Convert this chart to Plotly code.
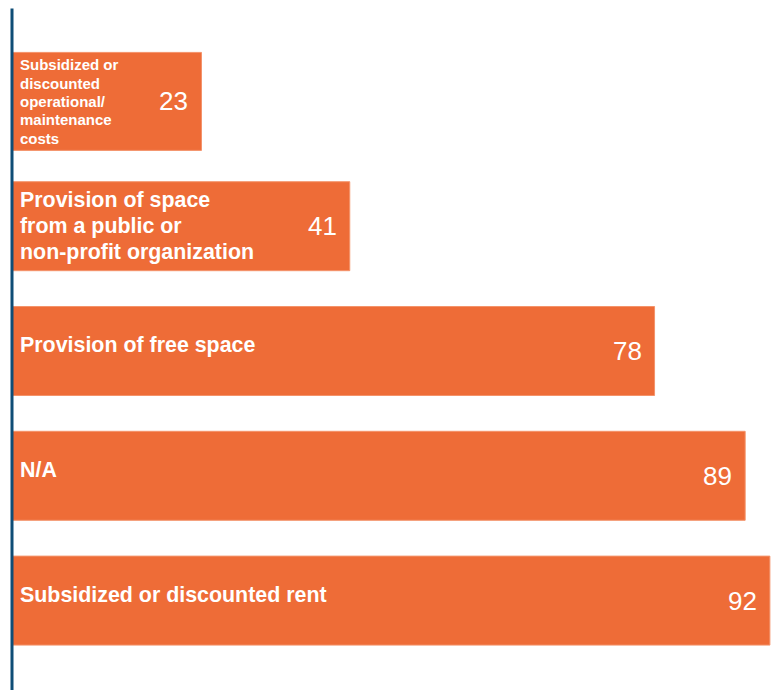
import plotly.graph_objects as go

# Support types and how many respondents reported each
categories = [
    "Subsidized or<br>discounted<br>operational/<br>maintenance<br>costs",
    "Provision of space<br>from a public or<br>non-profit organization",
    "Provision of free space",
    "N/A",
    "Subsidized or discounted rent",
]
values = [23, 41, 78, 89, 92]
label_sizes = [15, 21.4, 21.4, 21.4, 21.4]
line_gaps = [18.3, 26, 26, 26, 26]
bar_widths = [0.785, 0.713, 0.713, 0.713, 0.713]

BAR_COLOR = "#EE6C37"
AXIS_COLOR = "#0E4D76"
FONT = "Arial"

fig = go.Figure(
    go.Bar(
        x=values,
        y=categories,
        orientation="h",
        width=bar_widths,
        marker=dict(color=BAR_COLOR, line=dict(color="#F4936A", width=1)),
        hoverinfo="x+y",
    )
)

annotations = []
for cat, val, size, gap in zip(categories, values, label_sizes, line_gaps):
    lines = cat.split("<br>")
    n = len(lines)
    base = 6 if n == 1 else 0
    # category name, one annotation per line so the leading can be set
    for i, line in enumerate(lines):
        annotations.append(dict(
            x=0, y=cat, xref="x", yref="y",
            text=f"<b>{line}</b>", showarrow=False,
            xanchor="left", yanchor="middle", align="left",
            xshift=6, yshift=base + ((n - 1) / 2 - i) * gap,
            font=dict(family=FONT, size=size, color="white"),
        ))
    # value, right-aligned at the end of the bar
    annotations.append(dict(
        x=val, y=cat, xref="x", yref="y",
        text=str(val), showarrow=False,
        xanchor="right", yanchor="middle",
        xshift=-11,
        font=dict(family=FONT, size=26, color="white"),
    ))

fig.update_layout(
    width=774, height=690,
    margin=dict(l=12, r=0, t=39, b=27),
    paper_bgcolor="white", plot_bgcolor="white",
    showlegend=False,
    font=dict(family=FONT),
    xaxis=dict(range=[0, 92.5], visible=False, fixedrange=True),
    yaxis=dict(autorange="reversed", visible=False, fixedrange=True),
    annotations=annotations,
    shapes=[dict(
        type="line", xref="paper", yref="paper",
        x0=0, x1=0, y0=-0.05, y1=1.049,
        line=dict(color=AXIS_COLOR, width=3),
    )],
)

fig.write_html("out.html")
